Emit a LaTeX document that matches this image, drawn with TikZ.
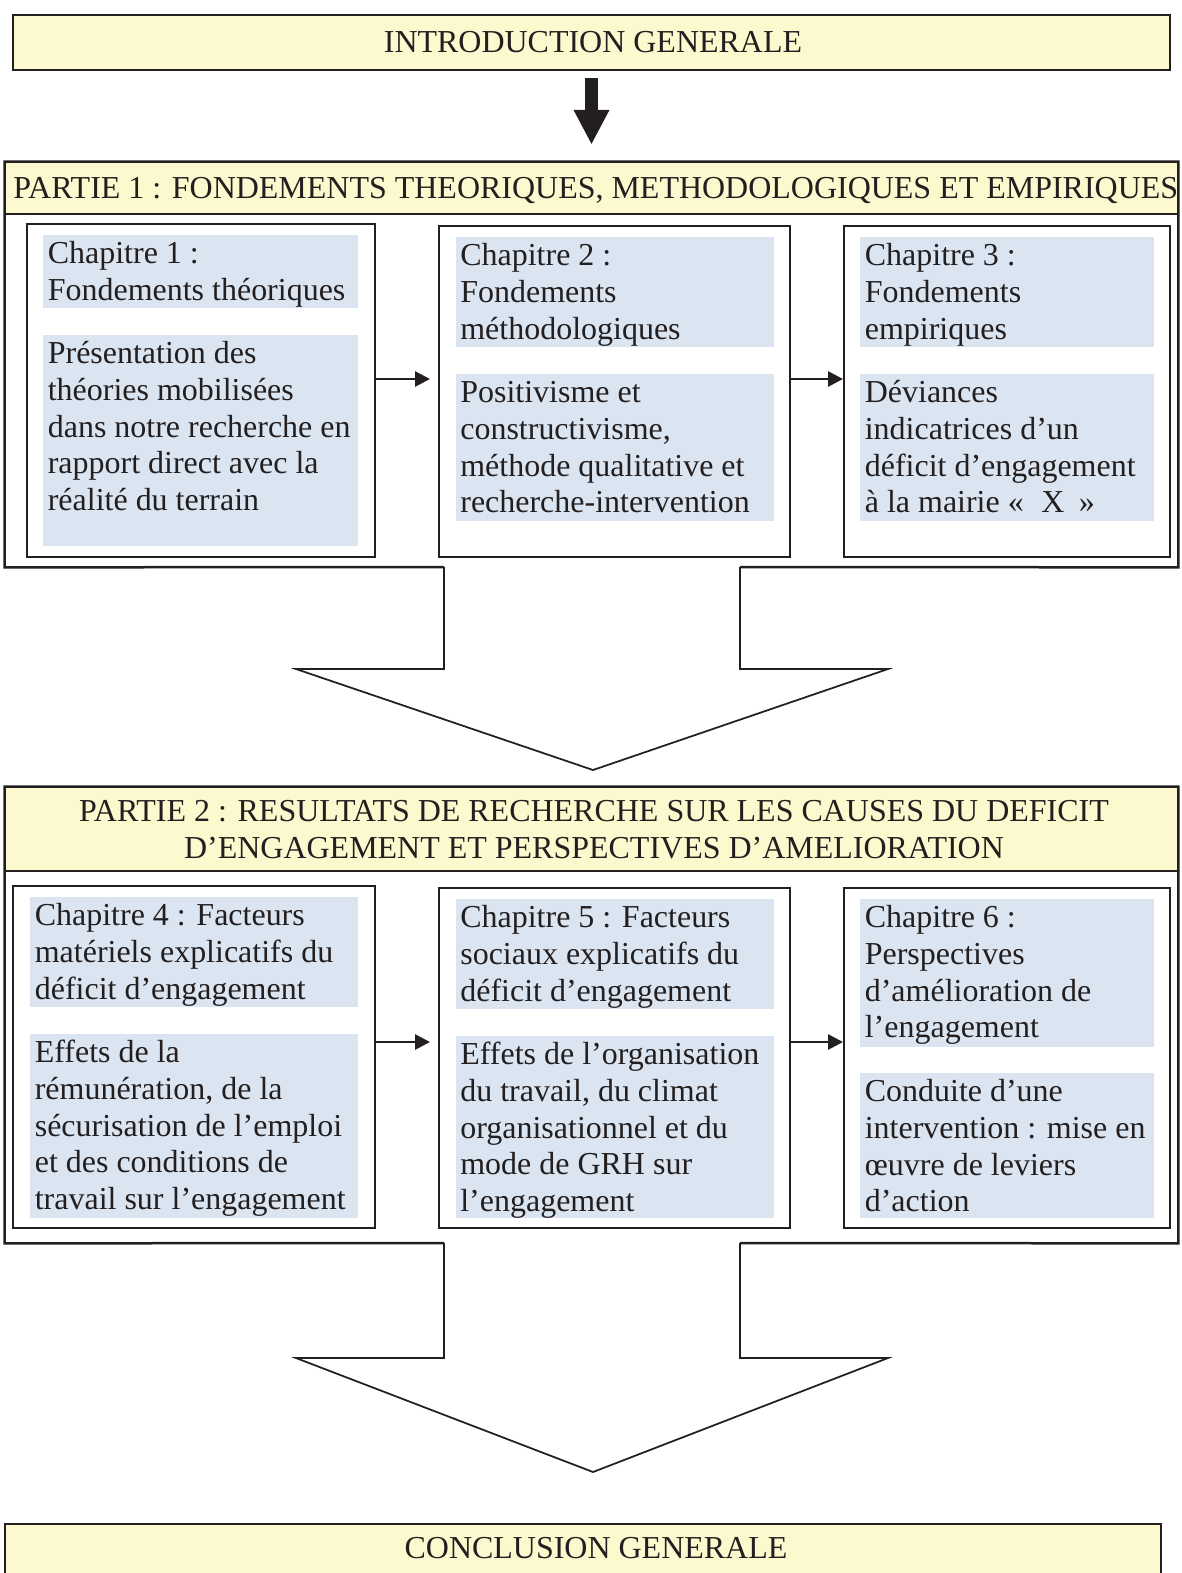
\documentclass[tikz,border=0pt]{standalone}
\usepackage{fontspec}
\setmainfont{Liberation Serif}
\usetikzlibrary{arrows.meta,fit}
\definecolor{ylw}{RGB}{252,249,206}
\definecolor{lblue}{RGB}{219,229,241}
\definecolor{ink}{RGB}{35,31,32}
\newcommand{\fs}{\rule{0pt}{15.9pt}}
\begin{document}
\begin{tikzpicture}[x=0.02cm,y=-0.02cm,
  framepath/.style={draw=ink, line width=0.05cm, line join=miter},
  chbox/.style={draw=ink, line width=0.04cm, inner sep=0pt},
  hdr/.style={draw=ink, line width=0.045cm, fill=ylw, inner sep=0pt},
  blu/.style={fill=lblue, inner sep=0pt},
  txt/.style={inner sep=0pt, align=left, font=\fontsize{18.2}{21}\selectfont, text=ink},
  conn/.style={draw=ink, line width=0.055cm, -{Triangle[length=0.3cm,width=0.3cm]}},
  bigarrow/.style={draw=ink, line width=0.26cm, -{Triangle[length=0.68cm,width=0.72cm,line width=0pt]}},
  hollow/.style={draw=ink, line width=0.035cm, line join=miter}]
\useasboundingbox (0,0) rectangle (1181,1573);

% Introduction
\node[hdr, fit={(13,15) (1170,70)}] (intro) {};
\node[txt, anchor=base] (introT) at (593,52) {INTRODUCTION GENERALE};

% Partie 1
\node[fit={(5,162) (1178,567)}, inner sep=0pt] (p1box) {};
\draw[framepath] (444,567) -- (p1box.south west) -- (p1box.north west) -- (p1box.north east) -- (p1box.south east) -- (740,567);
\node[hdr, fit={(5,162) (1178,214)}] (p1head) {};
\node[txt, anchor=base west] (p1T) at (13,198) {PARTIE 1 : FONDEMENTS THEORIQUES, METHODOLOGIQUES ET EMPIRIQUES};

\draw[bigarrow] ([yshift=-0.14cm]intro.south) -- ([yshift=0.34cm]p1head.north);

\node[chbox, fit={(27,224) (375,557)}] (ch1) {};
\node[blu, fit={(43,235) (358,308)}] (c1t) {};
\node[blu, fit={(43,335) (358,546)}] (c1b) {};
\node[txt, anchor=north west] (t1) at (47.5,235) {\fs Chapitre 1 :\\Fondements théoriques};
\node[txt, anchor=north west] (t1b) at (47.5,335) {\fs Présentation des\\théories mobilisées\\dans notre recherche en\\rapport direct avec la\\réalité du terrain};

\node[chbox, fit={(439,226) (790,557)}] (ch2) {};
\node[blu, fit={(456,237) (774,347)}] (c2t) {};
\node[blu, fit={(456,374) (774,521)}] (c2b) {};
\node[txt, anchor=north west] (t2) at (460,237) {\fs Chapitre 2 :\\Fondements\\méthodologiques};
\node[txt, anchor=north west] (t2b) at (460,374) {\fs Positivisme et\\constructivisme,\\méthode qualitative et\\recherche-intervention};

\node[chbox, fit={(844,226) (1170,557)}] (ch3) {};
\node[blu, fit={(860,237) (1154,347)}] (c3t) {};
\node[blu, fit={(860,374) (1154,521)}] (c3b) {};
\node[txt, anchor=north west] (t3) at (864.5,237) {\fs Chapitre 3 :\\Fondements\\empiriques};
\node[txt, anchor=north west] (t3b) at (864.5,374) {\fs Déviances\\indicatrices d’un\\déficit d’engagement\\à la mairie «\hspace{0.55em}X\hspace{0.45em}»};

\coordinate (r1) at (0,379);
\draw[conn, shorten >=0.16cm] (ch1.east |- r1) -- (ch2.west |- r1);
\draw[conn] (ch2.east |- r1) -- (ch3.west |- r1);

\draw[hollow] (444,567) -- (444,669) -- (296,669) -- (593,770) -- (888,669) -- (740,669) -- (740,567);

% Partie 2
\node[fit={(5,787) (1178,1243)}, inner sep=0pt] (p2box) {};
\draw[framepath] (444,1243) -- (p2box.south west) -- (p2box.north west) -- (p2box.north east) -- (p2box.south east) -- (740,1243);
\node[hdr, fit={(5,787) (1178,871)}] (p2head) {};
\node[txt, anchor=north, align=center] (p2T) at (594,793) {\fs PARTIE 2 : RESULTATS DE RECHERCHE SUR LES CAUSES DU DEFICIT\\D’ENGAGEMENT ET PERSPECTIVES D’AMELIORATION};

\node[chbox, fit={(13,886) (375,1228)}] (ch4) {};
\node[blu, fit={(30,897) (358,1007)}] (c4t) {};
\node[blu, fit={(30,1034) (358,1218)}] (c4b) {};
\node[txt, anchor=north west] (t4) at (34.5,897) {\fs Chapitre 4 : Facteurs\\matériels explicatifs du\\déficit d’engagement};
\node[txt, anchor=north west] (t4b) at (34.5,1034) {\fs Effets de la\\rémunération, de la\\sécurisation de l’emploi\\et des conditions de\\travail sur l’engagement};

\node[chbox, fit={(439,888) (790,1228)}] (ch5) {};
\node[blu, fit={(456,899) (774,1009)}] (c5t) {};
\node[blu, fit={(456,1036) (774,1218)}] (c5b) {};
\node[txt, anchor=north west] (t5) at (460,899) {\fs Chapitre 5 : Facteurs\\sociaux explicatifs du\\déficit d’engagement};
\node[txt, anchor=north west] (t5b) at (460,1036) {\fs Effets de l’organisation\\du travail, du climat\\organisationnel et du\\mode de GRH sur\\l’engagement};

\node[chbox, fit={(844,888) (1170,1228)}] (ch6) {};
\node[blu, fit={(860,899) (1154,1047)}] (c6t) {};
\node[blu, fit={(860,1073) (1154,1218)}] (c6b) {};
\node[txt, anchor=north west] (t6) at (864.5,899) {\fs Chapitre 6 :\\Perspectives\\d’amélioration de\\l’engagement};
\node[txt, anchor=north west] (t6b) at (864.5,1073) {\fs Conduite d’une\\intervention : mise en\\œuvre de leviers\\d’action};

\coordinate (r2) at (0,1042);
\draw[conn, shorten >=0.16cm] (ch4.east |- r2) -- (ch5.west |- r2);
\draw[conn] (ch5.east |- r2) -- (ch6.west |- r2);

\draw[hollow] (444,1243) -- (444,1358) -- (296,1358) -- (593,1472) -- (888,1358) -- (740,1358) -- (740,1243);

% Conclusion
\node[hdr, fit={(5,1524) (1161,1600)}] (concl) {};
\node[txt, anchor=base] (conclT) at (596,1558) {CONCLUSION GENERALE};
\end{tikzpicture}
\end{document}
